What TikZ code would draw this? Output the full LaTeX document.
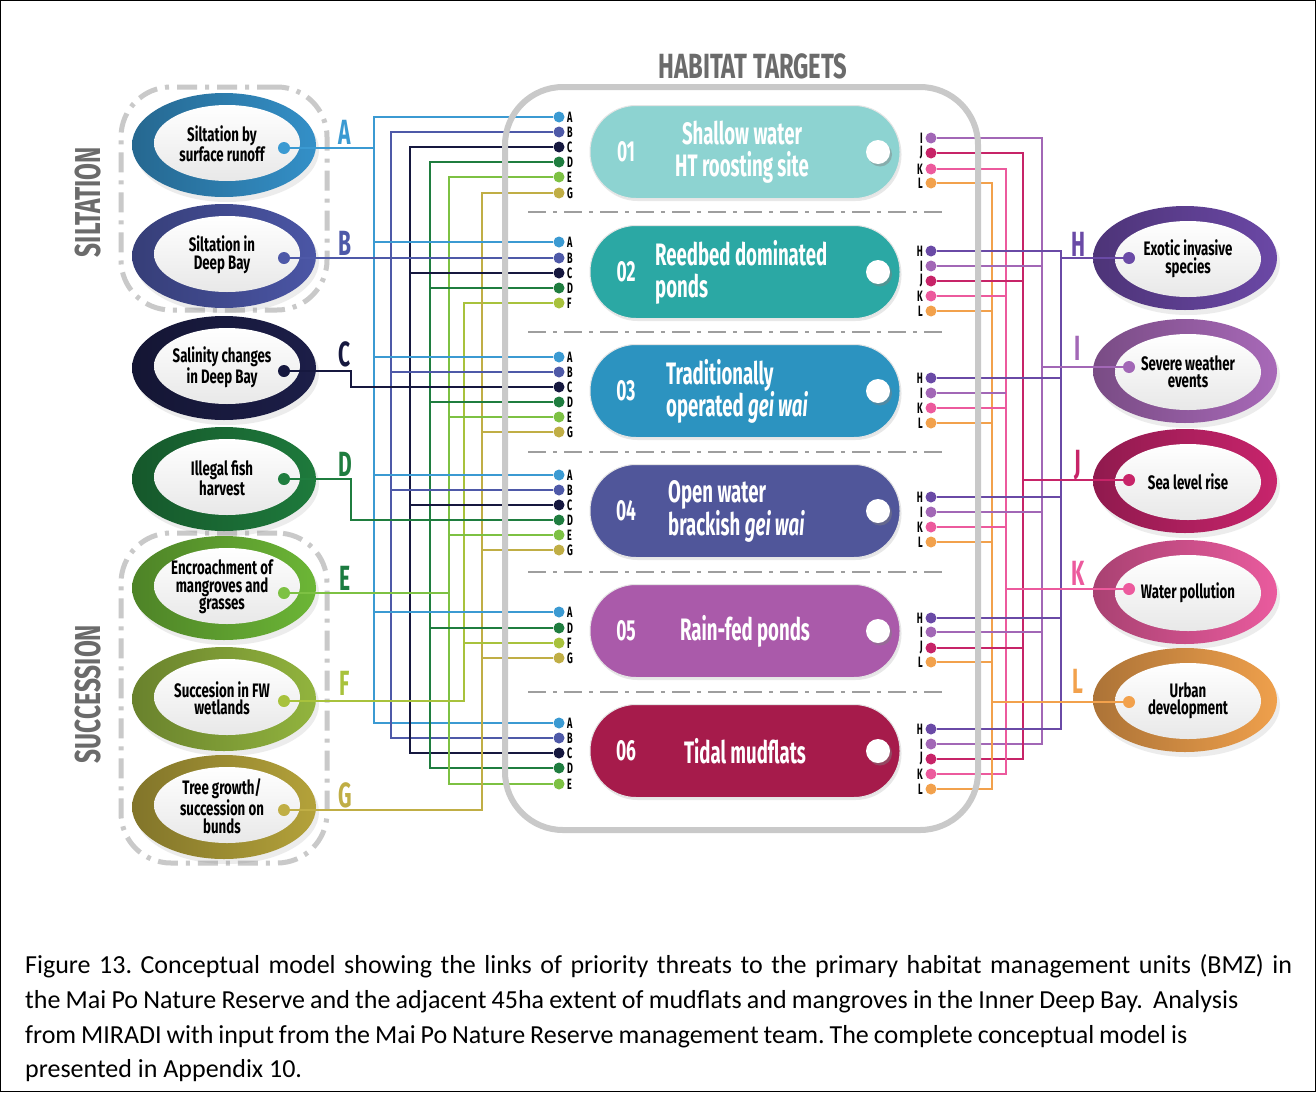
\documentclass[tikz,border=0pt]{standalone}
\usepackage{fontspec}
\setmainfont{Fira Sans}
\newfontfamily\cf[FakeStretch=0.68]{Fira Sans}
\newfontfamily\cfb[FakeStretch=0.6]{Fira Sans}
\newfontfamily\capf{Carlito}
\usetikzlibrary{shapes.geometric,shadows}

\definecolor{colA}{HTML}{3B9AD2}
\definecolor{colB}{HTML}{4E59A8}
\definecolor{colC}{HTML}{16183F}
\definecolor{colD}{HTML}{1F7D3F}
\definecolor{colE}{HTML}{7DC143}
\definecolor{colF}{HTML}{A8C23C}
\definecolor{colG}{HTML}{C0AE45}
\definecolor{colH}{HTML}{6A4AA6}
\definecolor{colI}{HTML}{A267B6}
\definecolor{colJ}{HTML}{C72468}
\definecolor{colK}{HTML}{EC5A9D}
\definecolor{colL}{HTML}{F2A14C}
\definecolor{ringA}{HTML}{3490C8}
\definecolor{ringB}{HTML}{4B56A6}
\definecolor{ringC}{HTML}{1C1E48}
\definecolor{ringD}{HTML}{1E7A3C}
\definecolor{ringE}{HTML}{6CB636}
\definecolor{ringF}{HTML}{92B43E}
\definecolor{ringG}{HTML}{B4A23A}
\definecolor{ringH}{HTML}{6B48A6}
\definecolor{ringI}{HTML}{A869B8}
\definecolor{ringJ}{HTML}{C8246C}
\definecolor{ringK}{HTML}{EA5B9E}
\definecolor{ringL}{HTML}{EFA04C}
\definecolor{bigA}{HTML}{3B9AD2}
\definecolor{bigB}{HTML}{4E59A8}
\definecolor{bigC}{HTML}{16183F}
\definecolor{bigD}{HTML}{1F7D3F}
\definecolor{bigE}{HTML}{1B7B40}
\definecolor{bigF}{HTML}{A8C23C}
\definecolor{bigG}{HTML}{C0AE45}
\definecolor{pillA}{HTML}{8DD3D1}
\definecolor{pillB}{HTML}{2BA8A4}
\definecolor{pillC}{HTML}{2C93C0}
\definecolor{pillD}{HTML}{50569A}
\definecolor{pillE}{HTML}{AA5AAA}
\definecolor{pillF}{HTML}{A61B4B}
\definecolor{framegray}{HTML}{C9C9C9}
\definecolor{titlegray}{HTML}{6B6B6B}

\begin{document}
\begin{tikzpicture}[x=1pt,y=-1pt,
  wire/.style={line width=1.8pt},
  ldot/.style={circle, inner sep=0pt, minimum size=11pt},
  dletter/.style={font=\cfb\bfseries\fontsize{15}{15}\selectfont, inner sep=0pt},
  pill/.style={rectangle, rounded corners=46pt, minimum width=310pt, minimum height=93pt, inner sep=0pt,
     draw=black!10, line width=1pt, drop shadow={opacity=0.18, shadow xshift=1.5pt, shadow yshift=-2.5pt}},
  ptxt/.style={font=\cfb\bfseries\fontsize{31}{32}\selectfont, text=white, inner sep=0pt},
  pnum/.style={font=\cfb\bfseries\fontsize{29}{29}\selectfont, text=white, inner sep=0pt},
  knob/.style={circle, fill=white, minimum size=24pt, inner sep=0pt,
     drop shadow={opacity=0.45, shadow xshift=2pt, shadow yshift=-2.5pt}},
  ring/.style={ellipse, minimum width=184pt, minimum height=104pt, inner sep=0pt,
     drop shadow={opacity=0.15, shadow xshift=3pt, shadow yshift=-5pt}},
  core/.style={ellipse, minimum width=146pt, minimum height=76pt, inner sep=0pt, top color=white, bottom color=black!9},
  etxt/.style={font=\cf\bfseries\fontsize{19.5}{17.5}\selectfont, align=center, inner sep=0pt, text=black},
  edot/.style={circle, inner sep=0pt, minimum size=12pt},
  big/.style={font=\cfb\bfseries\fontsize{35}{35}\selectfont, inner sep=0pt},
  groupbox/.style={rectangle, rounded corners=50pt, draw=framegray, line width=5pt,
     dash pattern=on 20pt off 8pt on 4pt off 8pt, minimum width=206pt},
  sepline/.style={draw=black!38, line width=1.3pt, dash pattern=on 18pt off 7pt on 4pt off 7pt},
  sidelbl/.style={font=\cf\bfseries\fontsize{36}{36}\selectfont, text=titlegray, rotate=90, inner sep=0pt},
  captxt/.style={font=\capf\fontsize{26}{30}\selectfont\frenchspacing, anchor=base west, inner sep=0pt}
]
\useasboundingbox (0,0) rectangle (1316,1092);
\fill[white] (0,0) rectangle (1316,1092);
\draw[black, line width=1pt] (0.5,0.5) rectangle (1315.5,1091.5);

% group boxes and side labels
\node[groupbox, minimum height=223pt] (gSilt) at (224,198.5) {};
\node[groupbox, minimum height=330pt] (gSucc) at (224,698) {};
\node[sidelbl] (lSilt) at (88,202) {SILTATION};
\node[sidelbl] (lSucc) at (88,694) {SUCCESSION};

% title
\node[font=\cf\bfseries\fontsize{35}{35}\selectfont, text=titlegray, inner sep=0pt] (title) at (753,66) {HABITAT TARGETS};

% left threat ellipses
\foreach \l/\y/\dy/\t in {A/145/148/{Siltation by\\surface runoff},
                          B/256/258/{Siltation in\\Deep Bay},
                          C/368/371/{Salinity changes\\in Deep Bay},
                          D/479/479/{Illegal fish\\harvest},
                          E/588/593/{Encroachment of\\mangroves and\\grasses},
                          F/699/701/{Succesion in FW\\wetlands},
                          G/807/810/{Tree growth/\\succession on\\bunds}}{
  \node[ring, left color=ring\l!72!black, right color=ring\l] (r\l) at (224,\y) {};
  \node[core] (c\l) at (227,\y-2) {};
  \node[etxt] (t\l) at (222,\y-1) {\t};
  \node[edot, fill=col\l] (d\l) at (284,\dy) {};
}
% left big letters
\foreach \l/\y in {A/132,B/243,C/354,D/464,E/578,F/683,G/795}{
  \node[big, text=big\l] (b\l) at (345,\y) {\l};
}

% right threat ellipses
\foreach \l/\y/\dy/\t in {H/258/258/{Exotic invasive\\species},
                          I/371/367/{Severe weather\\events},
                          J/481/480/{Sea level rise},
                          K/592/589/{Water pollution},
                          L/700/702/{Urban\\development}}{
  \node[ring, left color=ring\l!72!black, right color=ring\l] (r\l) at (1185,\y) {};
  \node[core] (c\l) at (1188,\y+1) {};
  \node[etxt] (t\l) at (1188,\y+1) {\t};
  \node[edot, fill=col\l] (e\l) at (1129,\dy) {};
}
\foreach \l/\y in {H/244,I/348,J/465,K/573,L/681}{
  \node[big, text=col\l] (b\l) at (1078,\y) {\l};
}

% left pill dots
\foreach \p/\l/\y in {1/A/117,1/B/132,1/C/147,1/D/162,1/E/177,1/G/193,
                      2/A/242,2/B/258,2/C/273,2/D/288,2/F/303,
                      3/A/357,3/B/372,3/C/387,3/D/402,3/E/417,3/G/432,
                      4/A/475,4/B/490,4/C/505,4/D/520,4/E/535,4/G/550,
                      5/A/612,5/D/628,5/F/643,5/G/658,
                      6/A/723,6/B/738,6/C/753,6/D/768,6/E/784}{
  \node[ldot, fill=col\l] (L\p\l) at (559,\y) {};
  \node[dletter, anchor=west] (L\p\l t) at (567,\y) {\l};
}
% right pill dots
\foreach \p/\l/\y in {1/I/138,1/J/153,1/K/169,1/L/183,
                      2/H/251,2/I/266,2/J/281,2/K/296,2/L/311,
                      3/H/378,3/I/393,3/K/408,3/L/423,
                      4/H/497,4/I/512,4/K/527,4/L/542,
                      5/H/618,5/I/632,5/J/648,5/L/662,
                      6/H/729,6/I/744,6/J/759,6/K/774,6/L/789}{
  \node[ldot, fill=col\l] (R\p\l) at (931,\y) {};
  \node[dletter, anchor=east] (R\p\l t) at (923,\y) {\l};
}

% trunk positions
\coordinate (xA) at (374,0);
\coordinate (xB) at (391,0);
\coordinate (xC) at (410,0);
\coordinate (xD) at (430,0);
\coordinate (xE) at (449,0);
\coordinate (xF) at (464,0);
\coordinate (xG) at (482,0);
\coordinate (xCD) at (351,0);
\coordinate (xH) at (1061,0);
\coordinate (xI) at (1042,0);
\coordinate (xJ) at (1023,0);
\coordinate (xK) at (1006,0);
\coordinate (xL) at (992,0);

% left trunks
\foreach \l in {A,B,C,D,E}{
  \draw[wire, color=col\l] (L1\l.west) -- (L1\l.west -| x\l) -- (L6\l.west -| x\l) -- (L6\l.west);
}
\draw[wire, color=colF] (L2F.west) -- (L2F.west -| xF) -- (dF.east -| xF) -- (dF.east);
\draw[wire, color=colG] (L1G.west) -- (L1G.west -| xG) -- (dG.east -| xG) -- (dG.east);
% left ellipse links
\draw[wire, color=colA] (dA.east) -- (dA.east -| xA);
\draw[wire, color=colB] (dB.east) -- (dB.east -| xB);
\draw[wire, color=colC] (dC.east) -- (dC.east -| xCD) -- (L3C.west -| xCD) -- (L3C.west);
\draw[wire, color=colD] (dD.east) -- (dD.east -| xCD) -- (L4D.west -| xCD) -- (L4D.west);
\draw[wire, color=colE] (dE.east) -- (dE.east -| xE);
% left branches
\foreach \n/\l in {L2A/A,L3A/A,L4A/A,L5A/A,L2B/B,L3B/B,L4B/B,L2C/C,L4C/C,
                   L2D/D,L3D/D,L5D/D,L3E/E,L4E/E,L5F/F,L3G/G,L4G/G,L5G/G}{
  \draw[wire, color=col\l] (\n.west) -- (\n.west -| x\l);
}

% right trunks
\foreach \l in {I,J,K,L}{
  \draw[wire, color=col\l] (R1\l.east) -- (R1\l.east -| x\l) -- (R6\l.east -| x\l) -- (R6\l.east);
}
\draw[wire, color=colH] (R2H.east) -- (R2H.east -| xH) -- (R6H.east -| xH) -- (R6H.east);
\foreach \l in {H,I,J,K,L}{
  \draw[wire, color=col\l] (e\l.west) -- (e\l.west -| x\l);
}
\foreach \n/\l in {R3H/H,R4H/H,R5H/H,R2I/I,R4I/I,R5I/I,R2J/J,R5J/J,
                   R2K/K,R3K/K,R4K/K,R2L/L,R3L/L,R4L/L,R5L/L}{
  \draw[wire, color=col\l] (\n.east) -- (\n.east -| x\l);
}
\draw[wire, color=colI] (R3I.east) -- (R3I.east -| xK);

% habitat frame
\node[rectangle, rounded corners=58pt, draw=framegray, line width=6pt, minimum width=473pt, minimum height=743pt] (frame) at (741.5,458.5) {};

% separators
\foreach \y [count=\i] in {212,332,452,572,692}{
  \coordinate (s\i a) at (528,\y);
  \coordinate (s\i b) at (945,\y);
  \draw[sepline] (s\i a) -- (s\i b);
}

% pills
\foreach \i/\y/\c in {1/152/pillA,2/272/pillB,3/391/pillC,4/511/pillD,5/631/pillE,6/751/pillF}{
  \node[pill, fill=\c] (P\i) at (745,\y) {};
  \node[pnum] (N\i) at (626,\y) {0\i};
  \node[knob] (K\i) at (878,\y) {};
}
\node[ptxt, align=center] (T1) at (742,152) {Shallow water\\HT roosting site};
\node[ptxt, align=left, anchor=west] (T2) at (655,272) {Reedbed dominated\\ponds};
\node[ptxt, align=left, anchor=west] (T3) at (666,391) {Traditionally\\operated \textit{gei wai}};
\node[ptxt, align=left, anchor=west] (T4) at (668,511) {Open water\\brackish \textit{gei wai}};
\node[ptxt] (T5) at (745,631) {Rain-fed ponds};
\node[ptxt] (T6) at (745,751) {Tidal mudflats};

% caption
\node[captxt] (cap1) at (25,973) {\makebox[1267pt][s]{Figure 13. Conceptual model showing the links of priority threats to the primary habitat management units (BMZ) in}};
\node[captxt] (cap2) at (25,1008) {\makebox[1213pt][s]{the Mai Po Nature Reserve and the adjacent 45ha extent of mudflats and mangroves in the Inner Deep Bay.\ \ Analysis}};
\node[captxt] (cap3) at (25,1043) {\makebox[1162pt][s]{from MIRADI with input from the Mai Po Nature Reserve management team. The complete conceptual model is}};
\node[captxt] (cap4) at (25,1077) {presented in Appendix 10.};
\end{tikzpicture}
\end{document}
